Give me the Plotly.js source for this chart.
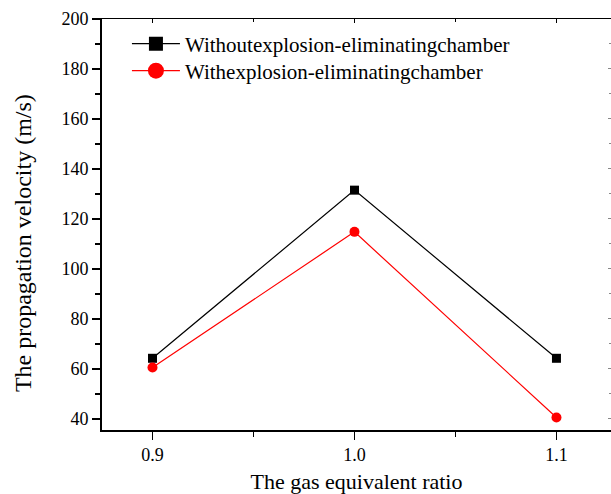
<!DOCTYPE html>
<html><head><meta charset="utf-8">
<script src="https://cdn.plot.ly/plotly-3.0.1.min.js"></script>
<style>body{margin:0;background:#fff}#chart{width:611px;height:494px}</style>
</head><body><div id="chart"></div>
<script>
const ratios = [0.9, 1.0, 1.1];
const withoutChamber = [64.2, 131.5, 64.2];
const withChamber = [60.5, 114.8, 40.5];
const nameWithout = 'Withoutexplosion-eliminatingchamber';
const nameWith = 'Withexplosion-eliminatingchamber';
const xTickVals = [0.9, 1.0, 1.1];
const xTickText = ['0.9', '1.0', '1.1'];
const yTickVals = [40, 60, 80, 100, 120, 140, 160, 180, 200];
const xTitle = 'The gas equivalent ratio';
const yTitle = 'The propagation velocity (m/s)';

const F = 'Times New Roman, Liberation Serif, serif';
const traces = [
  {x: ratios, y: withoutChamber, name: nameWithout, mode: 'lines+markers', showlegend: false,
   line: {color: '#000', width: 1.2}, marker: {symbol: 'square', size: 9, color: '#000'}},
  {x: ratios, y: withChamber, name: nameWith, mode: 'lines+markers', showlegend: false,
   line: {color: '#ff0000', width: 1.2}, marker: {symbol: 'circle', size: 10, color: '#ff0000'}},
  // legend entries (larger symbols as in the reference)
  {x: [null], y: [null], name: nameWithout, mode: 'lines+markers', legend: 'legend',
   line: {color: '#000', width: 1.2}, marker: {symbol: 'square', size: 14, color: '#000'}},
  {x: [null], y: [null], name: nameWith, mode: 'lines+markers', legend: 'legend2',
   line: {color: '#ff0000', width: 1.2}, marker: {symbol: 'circle', size: 16, color: '#ff0000'}},
  {x: [], y: [], xaxis: 'x2', yaxis: 'y2', showlegend: false, hoverinfo: 'skip'}
];
const xr = [0.875, 1.127], yr = [35.5, 200];
const legendBase = {xanchor: 'left', yanchor: 'middle', bgcolor: 'rgba(0,0,0,0)',
                    font: {family: F, size: 21, color: '#000'}, itemwidth: 48};
const layout = {
  width: 611, height: 494,
  margin: {l: 102, r: 0, t: 19, b: 64, pad: 0},
  paper_bgcolor: '#fff', plot_bgcolor: '#fff',
  font: {family: F, size: 18, color: '#000'},
  showlegend: true,
  legend: Object.assign({x: 0.049, y: 0.939}, legendBase),
  legend2: Object.assign({x: 0.049, y: 0.8735}, legendBase),
  xaxis: {range: xr, tickvals: xTickVals, ticktext: xTickText, ticks: 'outside', ticklen: 8,
          tickwidth: 1.5, tickcolor: '#000', showline: true, linecolor: '#000', linewidth: 1.5,
          showgrid: false, zeroline: false, tickfont: {family: F, size: 18, color: '#000'},
          minor: {tickvals: [0.95, 1.05], ticks: 'outside', ticklen: 5, tickwidth: 1.5, tickcolor: '#000'},
          title: {text: xTitle, font: {family: F, size: 22}, standoff: 9}},
  yaxis: {range: yr, tickvals: yTickVals, ticks: 'outside', ticklen: 8, tickwidth: 1.5,
          tickcolor: '#000', showline: true, linecolor: '#000', linewidth: 1.8,
          showgrid: false, zeroline: false, tickfont: {family: F, size: 18, color: '#000'},
          minor: {dtick: 10, ticks: 'outside', ticklen: 5, tickwidth: 1.5, tickcolor: '#000'}},
  xaxis2: {overlaying: 'x', side: 'top', range: xr, tickvals: xTickVals, ticks: 'inside', ticklen: 4,
           tickwidth: 1, tickcolor: '#000', showticklabels: false, showline: true, linecolor: '#000',
           linewidth: 1.3, showgrid: false, zeroline: false,
           minor: {tickvals: [0.95, 1.05], ticks: 'inside', ticklen: 3, tickwidth: 1, tickcolor: '#000'}},
  yaxis2: {overlaying: 'y', side: 'right', range: yr, tickvals: yTickVals, ticks: 'inside', ticklen: 3,
           tickwidth: 1, tickcolor: '#888', showticklabels: false, showline: false,
           showgrid: false, zeroline: false,
           minor: {dtick: 10, ticks: 'inside', ticklen: 2, tickwidth: 1, tickcolor: '#888'}},
  annotations: [{text: yTitle, textangle: -90, xref: 'paper', yref: 'paper',
                 x: -0.155, y: 0.455, xanchor: 'center', yanchor: 'middle', showarrow: false,
                 font: {family: F, size: 24, color: '#000'}}]
};
Plotly.newPlot('chart', traces, layout, {displayModeBar: false, staticPlot: true});
</script></body></html>
